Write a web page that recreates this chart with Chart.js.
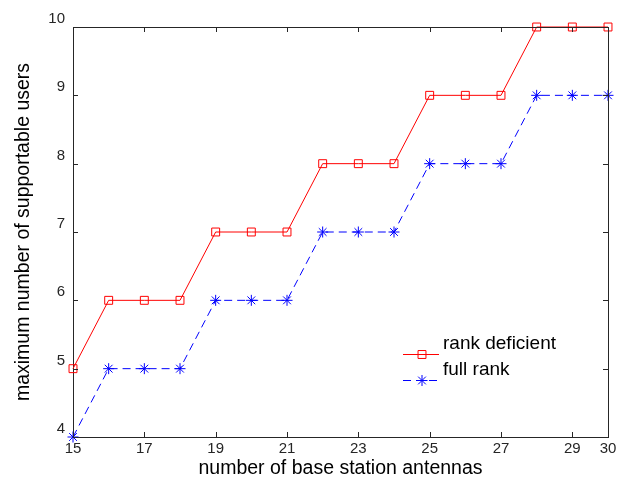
<!DOCTYPE html>
<html>
<head>
<meta charset="utf-8">
<script src="https://cdn.jsdelivr.net/npm/chart.js@4/dist/chart.umd.min.js"></script>
<style>
  html, body { margin: 0; padding: 0; background: #fff; }
  #wrap { width: 625px; height: 478px; }
</style>
</head>
<body>
<div id="wrap"><canvas id="grafico" width="625" height="478"></canvas></div>
<script>
// datos
const antenas = [15, 16, 17, 18, 19, 20, 21, 22, 23, 24, 25, 26, 27, 28, 29, 30];
const rankDeficient = [5, 6, 6, 6, 7, 7, 7, 8, 8, 8, 9, 9, 9, 10, 10, 10];
const fullRank = [4, 5, 5, 5, 6, 6, 6, 7, 7, 7, 8, 8, 8, 9, 9, 9];
const xTicks = [15, 17, 19, 21, 23, 25, 27, 29, 30];
const yTicks = [4, 5, 6, 7, 8, 9, 10];
const nombres = ['rank deficient', 'full rank'];

const fuente = "'Liberation Sans', Arial, sans-serif";

// caja con marcas hacia adentro + leyenda dentro del area
const cajaPlugin = {
    id: 'caja',
    afterDraw(chart) {
        const ctx = chart.ctx;
        const a = chart.chartArea;
        const x = chart.scales.x, y = chart.scales.y;
        const t = 5;
        ctx.save();
        ctx.strokeStyle = '#262626';
        ctx.lineWidth = 1;
        ctx.beginPath();
        ctx.moveTo(a.left + 0.5, a.top + 0.5);
        ctx.lineTo(a.right + 0.5, a.top + 0.5);
        ctx.lineTo(a.right + 0.5, a.bottom + 0.5);
        xTicks.forEach(v => {
            const px = Math.round(x.getPixelForValue(v)) + 0.5;
            ctx.moveTo(px, a.bottom); ctx.lineTo(px, a.bottom - t);
            ctx.moveTo(px, a.top); ctx.lineTo(px, a.top + t);
        });
        yTicks.forEach(v => {
            const py = Math.round(y.getPixelForValue(v)) + 0.5;
            ctx.moveTo(a.left, py); ctx.lineTo(a.left + t, py);
            ctx.moveTo(a.right, py); ctx.lineTo(a.right - t, py);
        });
        ctx.stroke();

        // leyenda
        const lx = 403, ly = 354;
        chart.data.datasets.forEach((ds, i) => {
            const yy = ly + i * 26;
            ctx.strokeStyle = ds.borderColor;
            ctx.setLineDash(ds.borderDash || []);
            ctx.beginPath();
            ctx.moveTo(lx, yy + 0.5); ctx.lineTo(lx + 36, yy + 0.5);
            ctx.stroke();
            ctx.setLineDash([]);
            Chart.helpers.drawPoint(ctx, {
                pointStyle: ds.pointStyle, radius: ds.pointRadius, borderWidth: 1
            }, lx + 19, yy + 0.5);
            ctx.fillStyle = '#000';
            ctx.font = '19px ' + fuente;
            ctx.textBaseline = 'middle';
            ctx.textAlign = 'left';
            ctx.fillText(ds.label, lx + 40, yy - 10);
        });
        ctx.restore();
    }
};

const ctx = document.getElementById('grafico').getContext('2d');
new Chart(ctx, {
    type: 'line',
    data: {
        datasets: [{
            label: nombres[0],
            data: antenas.map((v, i) => ({ x: v, y: rankDeficient[i] })),
            borderColor: '#ff0000',
            backgroundColor: 'rgba(0,0,0,0)',
            borderWidth: 1,
            pointStyle: 'rect',
            pointRadius: 5.6,
            pointBorderWidth: 1,
            pointBorderColor: '#ff0000',
            pointBackgroundColor: 'rgba(0,0,0,0)',
            tension: 0
        }, {
            label: nombres[1],
            data: antenas.map((v, i) => ({ x: v, y: fullRank[i] })),
            borderColor: '#0000ff',
            backgroundColor: 'rgba(0,0,0,0)',
            borderWidth: 1,
            borderDash: [8, 5],
            pointStyle: 'star',
            pointRadius: 5.5,
            pointBorderWidth: 1,
            pointBorderColor: '#0000ff',
            pointBackgroundColor: 'rgba(0,0,0,0)',
            tension: 0
        }]
    },
    options: {
        responsive: false,
        animation: false,
        clip: false,
        layout: { padding: { left: 0, right: 17, top: 27, bottom: 0 } },
        plugins: { legend: { display: false }, tooltip: { enabled: false } },
        scales: {
            x: {
                type: 'linear',
                min: 15, max: 30,
                afterBuildTicks: s => { s.ticks = xTicks.map(v => ({ value: v })); },
                afterFit: s => { s.height = 41; },
                grid: { display: false, drawTicks: false },
                border: { display: true, color: '#262626', width: 1 },
                ticks: { padding: 3, color: '#262626', font: { family: fuente, size: 15 } },
                title: {
                    display: true, text: 'number of base station antennas',
                    color: '#000', font: { family: fuente, size: 19.5, lineHeight: 1 }, padding: { top: 0, bottom: 0 }
                }
            },
            y: {
                type: 'linear',
                min: 4, max: 10,
                afterBuildTicks: s => { s.ticks = yTicks.map(v => ({ value: v })); },
                afterFit: s => { s.width = 73; },
                grid: { display: false, drawTicks: false },
                border: { display: true, color: '#262626', width: 1 },
                ticks: { padding: 8, labelOffset: -8, color: '#262626', font: { family: fuente, size: 15 } },
                title: {
                    display: true, text: 'maximum number of supportable users',
                    color: '#000', font: { family: fuente, size: 19.5 }, padding: { top: 12, bottom: 4 }
                }
            }
        }
    },
    plugins: [cajaPlugin]
});
</script>
</body>
</html>
